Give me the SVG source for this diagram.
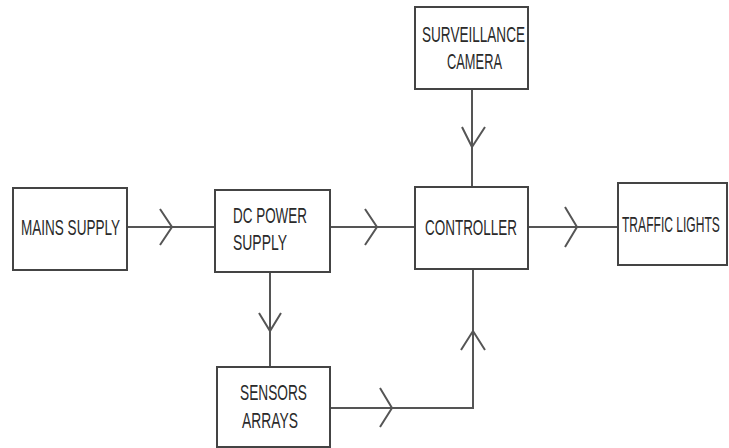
<svg xmlns="http://www.w3.org/2000/svg" width="729" height="448" viewBox="0 0 729 448">
<style>
.box{fill:#fff;stroke:#444;stroke-width:2}
.ln{fill:none;stroke:#555;stroke-width:2}
.t{font-family:"Liberation Sans",Arial,sans-serif;font-size:22px;fill:#2a2a2a;text-anchor:start}
</style>
<rect width="729" height="448" fill="#fff"/>
<g id="connectors">
<path class="ln" d="M127,227 H215"/>
<polyline class="ln" points="160,209 172,227 160,245"/>
<path class="ln" d="M330,227 H415"/>
<polyline class="ln" points="365,209 377,227 365,245"/>
<path class="ln" d="M528,227 H618"/>
<polyline class="ln" points="565,207 577,227 565,247"/>
<path class="ln" d="M472,89 V187"/>
<polyline class="ln" points="462,127 472,147 485,127"/>
<path class="ln" d="M270,272 V367"/>
<polyline class="ln" points="259,313 270,331 281,313"/>
<path class="ln" d="M330,408 H473 V269"/>
<polyline class="ln" points="380,388 392,408 380,427"/>
<polyline class="ln" points="461,350 473,331 485,350"/>
</g>
<g id="mains">
<rect class="box" x="13" y="188" width="114" height="82"/>
<text class="t" x="21" y="235" textLength="99" lengthAdjust="spacingAndGlyphs">MAINS SUPPLY</text>
</g>
<g id="dc">
<rect class="box" x="215" y="190" width="115" height="82"/>
<text class="t" x="233" y="223" textLength="74" lengthAdjust="spacingAndGlyphs">DC POWER</text>
<text class="t" x="233" y="250" textLength="54" lengthAdjust="spacingAndGlyphs">SUPPLY</text>
</g>
<g id="camera">
<rect class="box" x="415" y="7" width="113" height="82"/>
<text class="t" x="422" y="42" textLength="103" lengthAdjust="spacingAndGlyphs">SURVEILLANCE</text>
<text class="t" x="447" y="69" textLength="55" lengthAdjust="spacingAndGlyphs">CAMERA</text>
</g>
<g id="controller">
<rect class="box" x="415" y="187" width="113" height="82"/>
<text class="t" x="425" y="235" textLength="92" lengthAdjust="spacingAndGlyphs">CONTROLLER</text>
</g>
<g id="traffic">
<rect class="box" x="618" y="183" width="109" height="82"/>
<text class="t" transform="translate(622,232) scale(0.55,1)" x="0" y="0" textLength="178" lengthAdjust="spacingAndGlyphs">TRAFFIC LIGHTS</text>
</g>
<g id="sensors">
<rect class="box" x="217" y="367" width="113" height="80"/>
<text class="t" x="240" y="400" textLength="67" lengthAdjust="spacingAndGlyphs">SENSORS</text>
<text class="t" x="242" y="428" textLength="56" lengthAdjust="spacingAndGlyphs">ARRAYS</text>
</g>
</svg>
